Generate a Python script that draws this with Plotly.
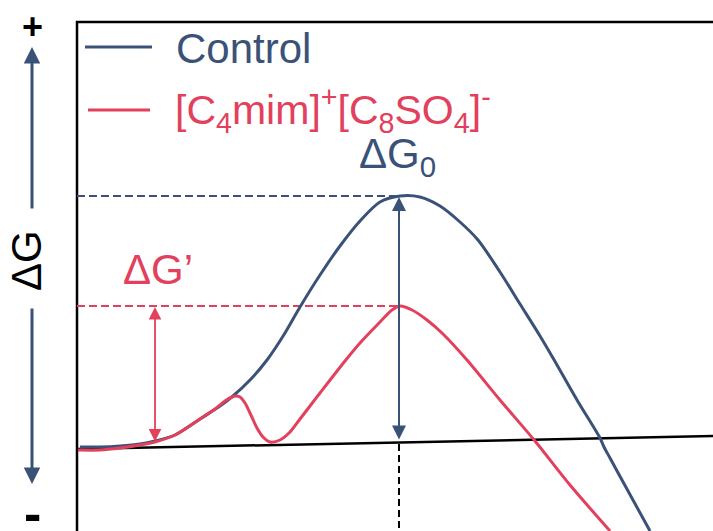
import plotly.graph_objects as go

# Reaction coordinate (x) and free energy (y, screen-like units, larger = lower energy)
ctrl_x = [80, 100, 120, 140, 155, 175, 200, 220, 233, 250, 267, 285, 300, 320, 340, 360, 380, 400,
          420, 440, 460, 478, 500, 520, 540, 553, 577, 600, 604, 610, 622, 650]
ctrl_y = [447, 447, 446, 444, 441, 435, 419, 406, 396, 380, 360, 333, 307, 275, 246, 221, 202, 196,
          197, 206, 222, 240, 272, 304, 336, 358, 400, 438, 447, 458, 480, 531]

il_x = [78, 100, 120, 140, 155, 175, 200, 215, 225, 232, 236, 240, 245, 250, 257, 263, 270, 280,
        290, 300, 310, 320, 345, 360, 380, 392, 400, 412, 427, 443, 467, 500, 535, 570, 610]
il_y = [450, 450, 448, 445, 442, 435, 419, 409, 401, 397, 396, 397, 403, 413, 428, 437, 442, 440,
        432, 419, 406, 393, 361, 343, 322, 310, 306, 310, 320, 334, 360, 400, 441, 485, 531]

base_x = [77, 713]
base_y = [449, 436]

ts_x = 399          # transition state position
dg0_top = 196       # control barrier top
dgp_top = 306       # IL barrier top
dgp_x = 155         # where ΔG' arrow is drawn
dgp_bottom = 443
dg0_bottom = 441

BLUE = "#3B5278"
RED = "#E2405C"
FONT = "Liberation Sans, Arial, sans-serif"

fig = go.Figure()

# frame
fig.add_trace(go.Scatter(x=[77, 77, 725], y=[540, 22, 22], mode="lines",
                         line=dict(color="black", width=2.5), hoverinfo="skip", showlegend=False))
# baseline
fig.add_trace(go.Scatter(x=base_x, y=base_y, mode="lines",
                         line=dict(color="black", width=2.5), hoverinfo="skip", showlegend=False))
# dashed guides
fig.add_trace(go.Scatter(x=[77, ts_x], y=[dg0_top, dg0_top], mode="lines",
                         line=dict(color=BLUE, width=1.8, dash="8px,4px"), hoverinfo="skip", showlegend=False))
fig.add_trace(go.Scatter(x=[77, ts_x], y=[dgp_top, dgp_top], mode="lines",
                         line=dict(color=RED, width=1.8, dash="8px,4px"), hoverinfo="skip", showlegend=False))
fig.add_trace(go.Scatter(x=[ts_x, ts_x], y=[444, 540], mode="lines",
                         line=dict(color="black", width=2, dash="7px,4px"), hoverinfo="skip", showlegend=False))

# curves
fig.add_trace(go.Scatter(x=ctrl_x, y=ctrl_y, mode="lines", name="Control",
                         line=dict(color=BLUE, width=3, shape="spline", smoothing=0.8), showlegend=False))
fig.add_trace(go.Scatter(x=il_x, y=il_y, mode="lines", name="[C4mim]+[C8SO4]-",
                         line=dict(color=RED, width=3, shape="spline", smoothing=0.8), showlegend=False))

# legend samples
fig.add_trace(go.Scatter(x=[85, 152], y=[47, 47], mode="lines", line=dict(color=BLUE, width=3),
                         hoverinfo="skip", showlegend=False))
fig.add_trace(go.Scatter(x=[88, 150], y=[110, 110], mode="lines", line=dict(color=RED, width=3),
                         hoverinfo="skip", showlegend=False))

ann = []
def arrow(x0, y0, x1, y1, color, width, size, both=False):
    ann.append(dict(x=x1, y=y1, ax=x0, ay=y0, xref="x", yref="y", axref="x", ayref="y",
                    text="", showarrow=True, arrowhead=2, arrowsize=size, arrowwidth=width,
                    arrowcolor=color, arrowside="end+start" if both else "end",
                    startarrowhead=2, startarrowsize=size, standoff=0, startstandoff=0))

arrow(ts_x, dg0_bottom, ts_x, dg0_top + 1, BLUE, 2, 1.4, both=True)
arrow(dgp_x, dgp_bottom, dgp_x, dgp_top + 1, RED, 1.8, 1.4, both=True)
arrow(32, 210, 32, 47, BLUE, 3, 1.1)
arrow(32, 307, 32, 484, BLUE, 3, 1.1)

def text(x, y, s, color, size, xanchor="left", angle=0, bold=False):
    ann.append(dict(x=x, y=y, xref="x", yref="y", text=("<b>%s</b>" % s) if bold else s,
                    showarrow=False, xanchor=xanchor, yanchor="middle", textangle=angle,
                    font=dict(family=FONT, size=size, color=color)))

text(174, 48, "Control", BLUE, 42)
text(173, 110, "[C<sub>4</sub>mim]<sup>+</sup>[C<sub>8</sub>SO<sub>4</sub>]<sup>-</sup>", RED, 41)
text(357, 156, "ΔG<sub>0</sub>", BLUE, 42)
text(121, 269, "ΔG’", RED, 42)
text(26, 261, "ΔG", "black", 42, xanchor="center", angle=-90)
text(32, 26, "+", "black", 36, xanchor="center", bold=True)
text(32, 513, "-", "black", 52, xanchor="center", bold=True)

fig.update_layout(
    width=713, height=531, margin=dict(l=0, r=0, t=0, b=0),
    paper_bgcolor="white", plot_bgcolor="white",
    xaxis=dict(range=[0, 713], visible=False, fixedrange=True),
    yaxis=dict(range=[531, 0], visible=False, fixedrange=True),
    annotations=ann, showlegend=False,
)

# remove the default 8px page margin so the figure fills the window exactly
fig.write_html("out.html", config={"displayModeBar": False},
               post_script="document.body.style.margin='0';document.body.style.overflow='hidden';")
